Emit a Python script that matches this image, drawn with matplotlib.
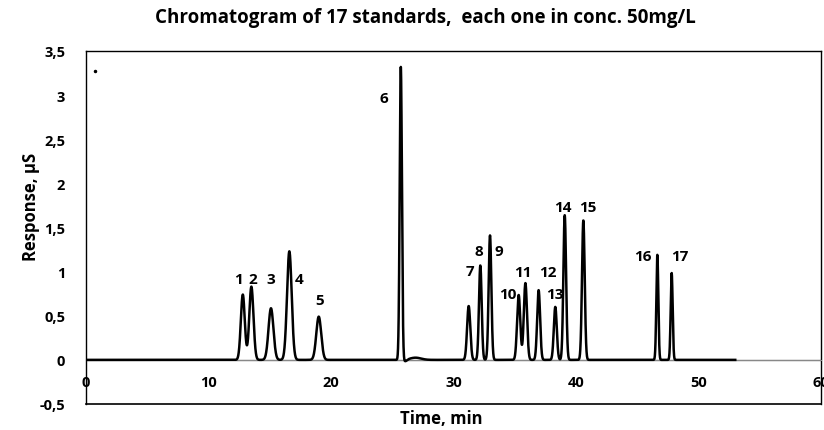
import numpy as np
import matplotlib
matplotlib.use("Agg")
import matplotlib.pyplot as plt

# peak table
peak_ids = [str(i) for i in range(1, 18)]
peak_times = [12.8, 13.5, 15.1, 16.6, 19.0, 25.7, 31.24, 32.19, 32.98,
              35.32, 35.87, 36.95, 38.31, 39.08, 40.6, 46.64, 47.81]
peak_heights = [0.74, 0.83, 0.585, 1.23, 0.49, 3.32, 0.61, 1.07, 1.41,
                0.735, 0.87, 0.79, 0.60, 1.64, 1.58, 1.19, 0.985]
peak_sigma = [0.16, 0.17, 0.2, 0.19, 0.2, 0.09, 0.13, 0.11, 0.11,
              0.13, 0.13, 0.12, 0.12, 0.11, 0.11, 0.08, 0.08]

# small baseline disturbance after peak 6
bump_times = [26.05, 26.9]
bump_heights = [-0.02, 0.025]
bump_sigma = [0.15, 0.45]

# label positions (time, response)
label_x = [12.41, 13.63, 15.10, 17.39, 19.10, 24.33, 31.35, 32.08, 33.71,
           34.45, 35.67, 37.71, 38.29, 38.94, 40.98, 45.47, 48.49]
label_y = [0.92, 0.92, 0.92, 0.92, 0.68, 2.97, 1.01, 1.235, 1.235,
           0.75, 1.0, 1.0, 0.75, 1.73, 1.73, 1.18, 1.18]

run_end = 53.0
x_ticks = [0, 10, 20, 30, 40, 50, 60]
y_ticks = [-0.5, 0, 0.5, 1, 1.5, 2, 2.5, 3, 3.5]


# builds the trace from the peak table
def trace(t):
    y = np.zeros_like(t)
    for c, h, s in zip(peak_times + bump_times, peak_heights + bump_heights,
                       peak_sigma + bump_sigma):
        y += h * np.exp(-0.5 * ((t - c) / s) ** 2)
    return y


plt.rcParams['font.family'] = ['Open Sans', 'DejaVu Sans']
plt.rcParams['font.weight'] = 'bold'

fig = plt.figure(figsize=(8.24, 4.31), dpi=100)
ax = fig.add_axes([86 / 824, 1 - 405 / 431, 735 / 824, 353 / 431])

t = np.linspace(0, run_end, 6000)
ax.axhline(0, color='#888888', lw=1.0, zorder=1)
ax.plot(t, trace(t), color='black', lw=1.8, zorder=3)
ax.plot([0.73], [3.27], 'o', color='black', ms=1.5)

for lab, lx, ly in zip(peak_ids, label_x, label_y):
    ax.text(lx, ly, lab, ha='center', va='center', fontsize=11,
            fontweight='bold')

ax.set_xlim(0, 60)
ax.set_ylim(-0.5, 3.5)
ax.set_xticks(x_ticks)
ax.set_yticks(y_ticks)
ax.set_yticklabels([('%g' % v).replace('.', ',') for v in y_ticks])
ax.tick_params(length=0, labelsize=10.5)
ax.tick_params(axis='y', pad=15)
ax.tick_params(axis='x', pad=11)
for lab in ax.get_xticklabels() + ax.get_yticklabels():
    lab.set_fontweight('bold')

ax.spines['bottom'].set_position(('data', 0))
ax.spines['bottom'].set_color('#888888')
ax.axhline(-0.5, color='black', lw=1.2, clip_on=False)
for side in ['left', 'top', 'right']:
    ax.spines[side].set_linewidth(1.0)

ax.set_xlabel('Time, min', fontsize=12, fontweight='bold')
ax.xaxis.set_label_coords(0.483, -0.015)
ax.set_ylabel('Response, µS', fontsize=12, fontweight='bold')
ax.yaxis.set_label_coords(-0.062, 0.56)

fig.text(0.516, 0.958, 'Chromatogram of 17 standards,  each one in conc. 50mg/L',
         ha='center', va='center', fontsize=13.5, fontweight='bold')

fig.savefig('out.png', dpi=100)
